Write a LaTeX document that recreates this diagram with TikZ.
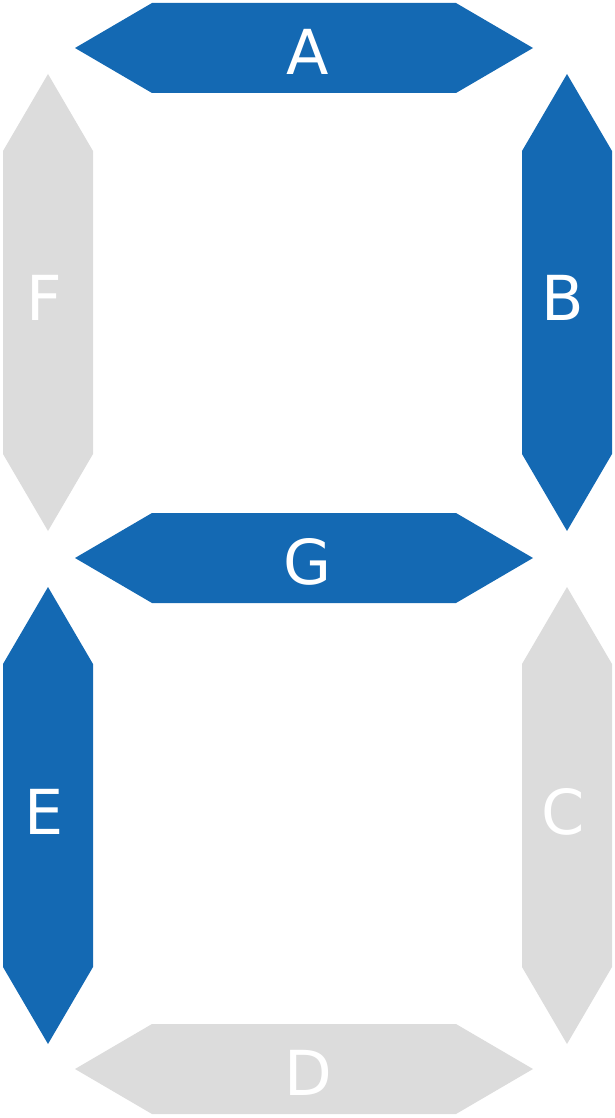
\documentclass[tikz,border=0pt]{standalone}
\usepackage{fontspec}
\setmainfont{DejaVu Sans}
\definecolor{segon}{HTML}{1469B3}
\definecolor{segoff}{HTML}{DCDCDC}
\begin{document}
\begin{tikzpicture}[x=1pt,y=-1pt,
  lbl/.style={text=white,font=\fontsize{62}{62}\selectfont,inner sep=0pt}]
\useasboundingbox (0,0) rectangle (615,1118);
\newcommand\hseg[2]{\fill[#2] (75,#1) -- (152,#1-45) -- (456,#1-45) -- (533,#1) -- (456,#1+45) -- (152,#1+45) -- cycle;}
\newcommand\vseg[3]{\fill[#3] (#1,#2) -- (#1+45,#2+77) -- (#1+45,#2+380) -- (#1,#2+457) -- (#1-45,#2+380) -- (#1-45,#2+77) -- cycle;}
\hseg{48}{segon}
\hseg{558}{segon}
\hseg{1069}{segoff}
\vseg{48}{74}{segoff}
\vseg{567}{74}{segon}
\vseg{48}{587}{segon}
\vseg{567}{587}{segoff}
\node[lbl] (A) at (308,52) {A};
\node[lbl] (G) at (308,562) {G};
\node[lbl] (D) at (308,1073) {D};
\node[lbl] (F) at (44,298) {F};
\node[lbl] (B) at (563,298) {B};
\node[lbl] (E) at (44,812) {E};
\node[lbl] (C) at (563,812) {C};
\end{tikzpicture}
\end{document}
